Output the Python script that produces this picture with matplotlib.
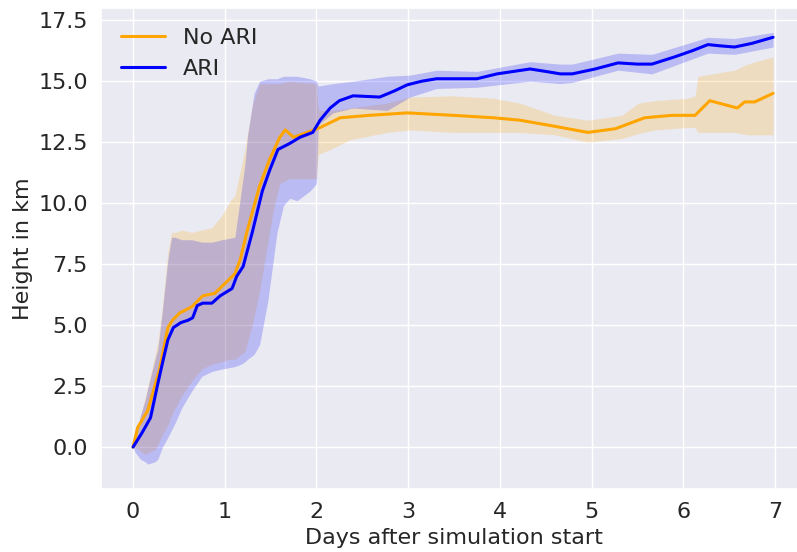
import matplotlib
matplotlib.use("Agg")
import matplotlib.pyplot as plt
import numpy as np
import seaborn as sns

# mean cloud-top height, runs without ARI
no_ari_days = [0.0, 0.05, 0.16, 0.29, 0.38, 0.43, 0.51, 0.64, 0.76, 0.89, 1.0, 1.11,
               1.17, 1.24, 1.38, 1.49, 1.6, 1.66, 1.75, 1.9, 2.04, 2.15, 2.26, 2.58,
               2.99, 3.49, 3.93, 4.22, 4.6, 4.96, 5.26, 5.58, 5.88, 6.13, 6.29, 6.59,
               6.67, 6.78, 6.98]
no_ari_mean = [0.0, 0.8, 1.5, 3.2, 4.9, 5.2, 5.5, 5.75, 6.2, 6.3, 6.7, 7.1,
               7.7, 8.8, 10.7, 11.8, 12.7, 13.0, 12.7, 12.9, 13.1, 13.3, 13.5, 13.6,
               13.7, 13.6, 13.5, 13.4, 13.15, 12.9, 13.05, 13.5, 13.6, 13.6, 14.2, 13.9,
               14.15, 14.15, 14.5]

# spread of the runs without ARI
no_ari_band_days = [0.0, 0.02, 0.13, 0.24, 0.27, 0.32, 0.38, 0.42, 0.46, 0.53, 0.64, 0.75,
                    0.86, 0.97, 1.06, 1.11, 1.18, 1.22, 1.3, 1.38, 1.53, 1.6, 1.7, 2.0,
                    2.02, 2.15, 2.37, 2.77, 3.02, 3.49, 3.93, 4.22, 4.6, 4.96, 5.33, 5.51,
                    5.69, 6.05, 6.13, 6.16, 6.56, 6.7, 6.98]
no_ari_low = [0.0, 0.0, -0.3, -0.1, 0.1, 0.5, 0.9, 1.3, 1.6, 2.1, 2.7, 3.2,
              3.4, 3.5, 3.6, 3.6, 3.8, 3.9, 5.0, 6.4, 9.7, 10.8, 11.0, 11.0,
              12.0, 12.2, 12.6, 12.9, 13.0, 12.9, 12.9, 12.9, 12.8, 12.5, 12.65, 12.85,
              13.0, 13.1, 13.1, 12.9, 12.9, 12.8, 12.8]
no_ari_high = [0.0, 0.4, 2.0, 3.8, 4.3, 5.8, 8.0, 8.8, 8.8, 8.9, 8.8, 8.9,
               9.0, 9.5, 10.1, 10.3, 11.5, 12.2, 14.0, 14.9, 14.9, 14.9, 15.0, 14.9,
               13.8, 13.8, 13.9, 14.1, 14.35, 14.4, 14.3, 14.1, 13.6, 13.4, 13.6, 14.1,
               14.2, 14.3, 14.4, 15.2, 15.45, 15.7, 16.0]

# mean cloud-top height, runs with ARI
ari_days = [0.0, 0.1, 0.19, 0.27, 0.33, 0.38, 0.44, 0.52, 0.6, 0.65, 0.7, 0.76,
            0.86, 0.95, 1.08, 1.13, 1.2, 1.3, 1.41, 1.49, 1.58, 1.71, 1.82, 1.96,
            2.04, 2.15, 2.25, 2.4, 2.69, 2.85, 2.99, 3.15, 3.31, 3.55, 3.75, 3.97,
            4.15, 4.33, 4.5, 4.66, 4.79, 5.04, 5.29, 5.5, 5.66, 5.91, 6.1, 6.27,
            6.4, 6.56, 6.75, 6.98]
ari_mean = [0.0, 0.6, 1.2, 2.6, 3.6, 4.4, 4.9, 5.1, 5.2, 5.3, 5.8, 5.9,
            5.9, 6.2, 6.5, 7.0, 7.4, 8.8, 10.5, 11.35, 12.2, 12.45, 12.7, 12.9,
            13.4, 13.9, 14.2, 14.4, 14.35, 14.6, 14.85, 15.0, 15.1, 15.1, 15.1, 15.3,
            15.4, 15.5, 15.4, 15.3, 15.3, 15.5, 15.75, 15.7, 15.7, 16.0, 16.25, 16.5,
            16.45, 16.4, 16.55, 16.8]

# spread of the runs with ARI
ari_band_days = [0.0, 0.02, 0.08, 0.13, 0.16, 0.24, 0.27, 0.32, 0.38, 0.42, 0.46, 0.53,
                 0.64, 0.75, 0.86, 0.97, 1.11, 1.18, 1.22, 1.25, 1.32, 1.38, 1.47, 1.57,
                 1.64, 1.71, 1.79, 1.93, 2.0, 2.02, 2.18, 2.4, 2.77, 3.02, 3.31, 3.75,
                 4.33, 4.66, 4.79, 5.29, 5.66, 6.27, 6.56, 6.98]
ari_low = [0.0, -0.2, -0.5, -0.6, -0.7, -0.6, -0.5, 0.0, 0.4, 0.7, 1.0, 1.6,
           2.3, 2.9, 3.1, 3.2, 3.3, 3.4, 3.5, 3.6, 3.8, 4.2, 6.0, 8.8,
           9.9, 10.2, 10.1, 10.5, 10.8, 13.2, 13.7, 13.9, 13.8, 14.35, 14.7, 14.75,
           15.0, 14.9, 14.95, 15.45, 15.3, 16.15, 16.1, 16.4]
ari_high = [0.0, 0.3, 1.3, 1.9, 2.4, 3.6, 4.0, 5.6, 7.7, 8.6, 8.6, 8.5,
            8.5, 8.4, 8.4, 8.5, 8.6, 10.5, 11.6, 12.8, 14.5, 15.0, 15.1, 15.1,
            15.2, 15.2, 15.2, 15.1, 15.0, 14.8, 14.9, 15.0, 15.2, 15.25, 15.45, 15.4,
            15.8, 15.7, 15.7, 16.15, 16.1, 16.8, 16.75, 17.0]

sns.set_theme(style="darkgrid")
plt.rcParams['font.family'] = ['DejaVu Sans']

fig = plt.figure(figsize=(7.97, 5.52), dpi=100)
ax = fig.add_axes([0.1267, 0.1141, 0.8858, 0.8714])

ax.fill_between(no_ari_band_days, no_ari_low, no_ari_high, color="orange", alpha=0.2, lw=0)
ax.fill_between(ari_band_days, ari_low, ari_high, color="blue", alpha=0.2, lw=0)
ax.plot(no_ari_days, no_ari_mean, color="orange", lw=2.2, label="No ARI")
ax.plot(ari_days, ari_mean, color="blue", lw=2.2, label="ARI")

ax.set_xlim(-0.35, 7.35)
ax.set_ylim(-1.72, 18.0)
ax.set_xticks(range(8))
ax.set_yticks(np.arange(0, 17.6, 2.5))
ax.tick_params(labelsize=16)
ax.set_xlabel("Days after simulation start", fontsize=16)
ax.set_ylabel("Height in km", fontsize=16)
ax.legend(loc="upper left", fontsize=16, frameon=False)

fig.savefig("out.png", dpi=100)
